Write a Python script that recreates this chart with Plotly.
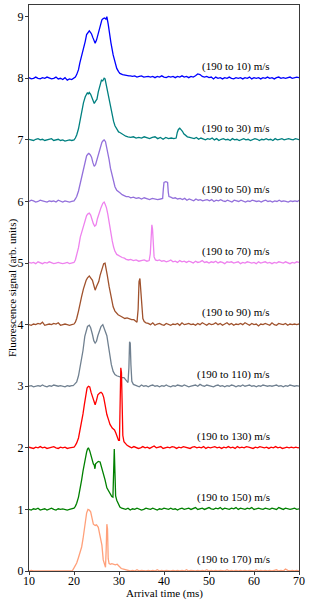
import plotly.graph_objects as go

# ---------------- data ----------------
FINAL_SPEEDS = [10, 30, 50, 70, 90, 110, 130, 150, 170]
OFFSETS = [8, 7, 6, 5, 4, 3, 2, 1, 0]
COLORS = ["#0000ff", "#008080", "#9370db", "#ee82ee", "#a0522d",
          "#708090", "#ff0000", "#008000", "#ffa07a"]

# PRE: baseline samples from 10 ms in 0.5 ms steps
# MAIN: (time, signal) pairs across the peaks
# POST: baseline samples from POST_START in 0.5 ms steps (rows = 5 ms)

PRE_10 = [0.01,-0.01,0.00,0.02,0.00,-0.01,0.01,0.00,0.02,0.01,-0.01,0.00,0.02,-0.01,0.00,-0.02,0.01,-0.03,-0.01,-0.02]
MAIN_10 = [(20.0,0.00),(20.3,0.02),(20.6,0.06),(21.0,0.14),(21.3,0.25),(21.7,0.36),(22.1,0.46),(22.5,0.60),(22.8,0.71),(23.1,0.75),
           (23.4,0.77),(23.7,0.74),(23.9,0.72),(24.2,0.66),(24.5,0.60),(24.7,0.57),(25.0,0.62),(25.4,0.74),(25.8,0.85),(26.2,0.95),
           (26.5,0.97),(26.8,0.98),(27.1,0.96),(27.3,1.00),(27.6,0.88),(27.8,0.76),(28.2,0.58),(28.7,0.38),(29.1,0.26),(29.5,0.16),
           (29.9,0.11),(30.2,0.08),(30.8,0.06),(31.3,0.05),(31.7,0.04),(32.2,0.04)]
POST_START_10 = 32.5
POST_10 = [0.04,0.03,0.04,0.02,0.03,0.04,0.02,0.03,0.03,0.02,
           0.03,0.01,0.03,0.02,0.04,0.02,0.01,0.03,0.02,0.03,
           0.01,0.03,0.02,0.04,0.02,0.03,0.01,0.03,0.02,0.04,
           0.07,0.06,0.03,0.02,0.03,0.01,0.02,-0.01,0.02,0.00,
           0.01,-0.01,0.01,0.00,0.02,0.00,-0.01,0.01,0.00,0.01,
           -0.01,0.01,0.00,0.02,-0.01,0.01,0.00,0.01,-0.01,0.01,
           0.00,0.02,0.00,0.01,-0.01,0.01,0.02,0.00,0.01,0.00,
           0.01,0.02,0.00,0.01,0.02,0.01,0.00,0.01,0.01,0.00]

PRE_30 = [0.01,0.00,-0.01,0.01,0.02,0.00,0.01,-0.01,0.00,0.01,0.02,-0.01,0.00,0.01,-0.01,0.00,-0.02,-0.01,0.00,-0.01]
MAIN_30 = [(20.0,0.00),(20.3,0.03),(20.6,0.08),(21.0,0.18),(21.3,0.30),(21.7,0.45),(22.1,0.60),(22.5,0.70),(22.8,0.74),(23.0,0.77),
           (23.2,0.74),(23.4,0.77),(23.7,0.74),(24.0,0.68),(24.3,0.62),(24.5,0.59),(24.8,0.63),(25.1,0.66),(25.4,0.78),(25.8,0.92),
           (26.1,0.97),(26.4,0.96),(26.7,1.00),(26.9,0.99),(27.2,0.88),(27.6,0.74),(28.0,0.56),(28.4,0.42),(28.8,0.30),(29.1,0.23),
           (29.5,0.18),(29.9,0.13),(30.2,0.12),(30.6,0.10),(31.0,0.08),(31.5,0.06),(32.0,0.05),
           (32.6,0.04),(33.2,0.05),(33.8,0.03),(34.4,0.04),(35.0,0.03),(35.6,0.05),(36.2,0.03),(36.8,0.02),(37.4,0.04),(38.0,0.05),
           (38.6,0.02),(39.2,0.04),(39.8,0.01),(40.4,0.04),(41.0,0.02),(41.6,0.03),(42.2,0.02),(42.7,0.03),(42.95,0.12),(43.2,0.17),
           (43.5,0.19),(43.8,0.17),(44.1,0.14),(44.4,0.10),(44.8,0.07),(45.2,0.05),(45.7,0.04)]
POST_START_30 = 46.2
POST_30 = [0.03,0.02,0.04,0.01,0.03,0.02,0.00,0.02,0.01,0.03,
           0.00,0.02,-0.01,0.01,0.02,0.00,0.01,-0.01,0.02,0.00,
           0.01,-0.01,0.01,0.02,0.00,0.01,-0.01,0.00,0.02,0.01,
           -0.01,0.01,0.00,0.02,0.00,0.01,-0.01,0.02,0.00,0.01,
           0.02,0.00,0.01,0.02,0.01,0.00,0.02,0.01,0.00,0.01]

PRE_50 = [0.00,0.02,0.01,-0.01,0.00,0.02,0.01,0.00,-0.01,0.01,0.00,0.01,-0.01,0.02,0.00,-0.01,0.01,0.00,-0.01,0.00]
MAIN_50 = [(20.0,0.01),(20.3,0.04),(20.6,0.08),(21.0,0.17),(21.4,0.30),(21.8,0.44),(22.1,0.54),(22.5,0.66),(22.8,0.74),(23.1,0.77),
           (23.3,0.78),(23.6,0.76),(23.9,0.72),(24.2,0.63),(24.5,0.57),(24.8,0.60),(25.0,0.65),(25.4,0.78),(25.8,0.89),(26.2,0.96),
           (26.5,0.99),(26.7,1.00),(27.0,0.97),(27.4,0.84),(27.8,0.68),(28.1,0.54),(28.5,0.40),(28.8,0.31),(29.1,0.24),(29.5,0.18),
           (29.9,0.15),(30.2,0.14),(30.7,0.11),(31.2,0.09),(31.6,0.08),(32.1,0.08),(32.6,0.06),(33.2,0.07),(33.8,0.05),(34.4,0.06),
           (35.0,0.04),(35.6,0.06),(36.2,0.05),(36.8,0.03),(37.4,0.05),(38.0,0.04),(38.6,0.03),(39.2,0.04),(39.7,0.05),(39.85,0.20),
           (40.0,0.31),(40.4,0.32),(40.8,0.31),(40.95,0.15),(41.1,0.08),(41.5,0.07),(42.0,0.05),(42.5,0.06),(43.0,0.04),(43.6,0.05)]
POST_START_50 = 44.1
POST_50 = [0.03,0.05,0.02,0.04,0.03,0.01,0.04,0.02,0.03,0.01,
           0.02,0.03,0.01,0.03,0.00,0.02,0.01,0.03,0.01,0.00,
           0.02,0.01,-0.01,0.02,0.01,0.00,0.02,0.01,-0.01,0.01,
           0.00,0.02,0.01,0.00,0.01,-0.01,0.01,0.02,0.00,0.01,
           -0.01,0.01,0.00,0.02,0.00,0.01,0.00,-0.01,0.01,0.00,
           0.01,0.00,0.02,0.01]

PRE_70 = [0.01,0.00,0.01,-0.01,0.02,0.00,-0.01,0.01,0.00,0.02,0.01,-0.01,0.00,0.01,0.00,-0.01,0.00,0.01,-0.01,0.00]
MAIN_70 = [(20.0,0.01),(20.3,0.05),(20.6,0.12),(21.0,0.25),(21.4,0.42),(21.7,0.50),(22.1,0.62),(22.5,0.72),(22.8,0.77),(23.1,0.80),
           (23.4,0.81),(23.7,0.78),(24.0,0.70),(24.3,0.64),(24.6,0.60),(24.9,0.62),(25.2,0.72),(25.6,0.82),(26.0,0.90),(26.4,0.97),
           (26.7,0.99),(26.9,0.96),(27.2,0.90),(27.5,0.80),(27.8,0.66),(28.1,0.50),(28.5,0.36),(28.8,0.26),(29.1,0.19),(29.5,0.14),
           (29.9,0.12),(30.2,0.11),(30.7,0.09),(31.2,0.08),(31.6,0.06),(32.1,0.05),(32.6,0.06),(33.2,0.04),(33.8,0.05),(34.4,0.03),
           (35.0,0.04),(35.6,0.05),(36.2,0.03),(36.7,0.04),(36.95,0.15),(37.15,0.50),(37.3,0.62),(37.45,0.55),(37.6,0.25),(37.8,0.10),
           (38.1,0.05),(38.5,0.04),(39.0,0.05),(39.5,0.03)]
POST_START_70 = 40.0
POST_70 = [0.04,0.02,0.03,0.05,0.02,0.03,0.01,0.04,0.02,0.03,
           0.01,0.03,0.02,0.00,0.03,0.01,0.02,0.04,0.01,0.02,
           0.00,0.02,0.01,0.03,0.00,0.02,0.01,-0.01,0.02,0.01,
           0.02,0.00,0.01,0.02,-0.01,0.01,0.00,0.02,0.01,0.00,
           0.01,-0.01,0.02,0.00,0.01,0.02,0.00,0.01,-0.01,0.01,
           0.00,0.02,0.01,0.00,0.02,0.01,-0.01,0.01,0.00,0.02,
           0.01,0.00]

PRE_90 = [0.00,-0.01,0.01,0.00,0.02,0.01,0.04,-0.01,0.00,0.01,0.00,0.02,0.01,0.03,-0.01,0.00,0.01,0.00,-0.01,0.00]
MAIN_90 = [(20.0,0.01),(20.3,0.04),(20.6,0.10),(21.0,0.22),(21.4,0.38),(21.7,0.46),(22.1,0.58),(22.4,0.66),(22.7,0.72),(23.0,0.76),
           (23.4,0.79),(23.7,0.76),(24.1,0.72),(24.4,0.64),(24.7,0.56),(25.0,0.62),(25.5,0.70),(25.8,0.80),(26.2,0.90),(26.6,0.99),
           (26.9,1.00),(27.1,0.89),(27.4,0.80),(27.8,0.62),(28.2,0.46),(28.7,0.29),(29.1,0.22),(29.5,0.18),(29.8,0.16),(30.3,0.14),
           (30.8,0.12),(31.3,0.10),(31.8,0.11),(32.3,0.09),(32.8,0.08),(33.3,0.08),(33.7,0.06),(34.0,0.04),(34.25,0.25),(34.45,0.70),
           (34.65,0.75),(34.85,0.55),(35.05,0.22),(35.3,0.10),(35.6,0.05),(36.0,0.03),(36.5,0.02)]
POST_START_90 = 37.0
POST_90 = [0.00,0.03,-0.01,0.01,0.02,0.00,-0.01,0.02,0.01,-0.01,
           0.01,0.00,0.02,-0.01,0.03,0.00,0.01,0.02,0.00,0.01,
           -0.01,0.02,0.00,0.03,0.01,-0.01,0.02,0.00,0.01,0.03,
           0.00,0.02,-0.01,0.01,0.03,0.00,0.02,-0.01,0.01,0.00,
           0.02,0.00,0.03,0.01,-0.01,0.02,0.00,0.01,-0.02,0.01,
           0.00,0.02,0.01,-0.01,0.03,0.00,-0.01,0.02,0.01,0.00,
           0.02,-0.01,0.01,0.00,0.01,0.00,0.01,0.00,0.01,0.00]

PRE_110 = [0.00,0.01,-0.01,0.00,0.01,0.00,0.02,0.00,-0.01,0.01,0.00,0.02,0.01,0.00,0.01,0.00,-0.01,0.01,0.00,0.01]
MAIN_110 = [(19.8,0.01),(20.1,0.03),(20.6,0.07),(21.0,0.17),(21.4,0.32),(21.7,0.43),(22.0,0.58),(22.4,0.81),(22.7,0.92),(23.0,0.97),
            (23.4,0.99),(23.7,0.95),(24.1,0.84),(24.4,0.74),(24.7,0.70),(25.0,0.73),(25.3,0.82),(25.7,0.93),(26.0,0.97),(26.4,1.00),
            (26.7,0.95),(27.0,0.88),(27.3,0.82),(27.6,0.66),(28.0,0.48),(28.3,0.35),(28.7,0.24),(29.1,0.19),(29.5,0.17),(29.8,0.16),
            (30.3,0.15),(30.7,0.14),(31.1,0.14),(31.5,0.11),(31.8,0.08),(32.0,0.06),(32.2,0.30),(32.35,0.72),(32.5,0.70),(32.65,0.35),
            (32.85,0.08),(33.2,0.03),(33.6,0.02)]
POST_START_110 = 34.0
POST_110 = [0.01,-0.01,0.02,0.00,0.01,-0.01,0.01,0.02,0.00,0.01,
            -0.01,0.01,0.00,0.02,0.00,-0.01,0.01,0.00,0.02,0.01,
            0.00,0.02,0.01,-0.01,0.00,0.01,0.02,0.00,0.03,0.01,
            0.00,0.02,0.01,0.00,-0.01,0.01,0.02,0.00,0.01,-0.01,
            0.01,0.00,0.02,0.01,-0.01,0.01,0.00,0.02,0.00,0.01,
            0.02,0.00,0.01,-0.01,0.01,0.00,0.02,0.01,0.00,0.01,
            0.00,0.01,0.02,0.00,0.01,-0.01,0.01,0.00,0.02,0.01,
            0.00,0.01,0.00]

PRE_130 = [0.01,0.00,-0.01,0.01,0.00,0.02,0.00,0.01,-0.01,0.00,0.01,0.02,0.00,-0.01,0.01,0.00,0.01,-0.01,0.00,0.00]
MAIN_130 = [(20.0,0.01),(20.3,0.04),(20.6,0.08),(21.0,0.16),(21.3,0.26),(21.7,0.40),(22.0,0.55),(22.3,0.70),(22.6,0.86),(22.9,0.97),
            (23.2,1.00),(23.5,0.99),(23.8,0.90),(24.1,0.82),(24.4,0.76),(24.7,0.70),(25.0,0.77),(25.3,0.86),(25.7,0.89),(26.0,0.90),
            (26.3,0.88),(26.6,0.82),(26.9,0.70),(27.3,0.54),(27.7,0.45),(28.0,0.38),(28.5,0.32),(29.0,0.29),(29.3,0.24),(29.6,0.16),
            (29.9,0.12),(30.1,0.12),(30.25,0.60),(30.4,1.30),(30.55,1.22),(30.7,0.60),(30.85,0.20),(31.1,0.10),(31.4,0.07),(31.8,0.04),
            (32.3,0.02)]
POST_START_130 = 32.8
POST_130 = [0.00,0.02,0.01,-0.01,0.00,0.02,0.00,0.01,-0.01,0.01,
            0.03,0.00,0.01,0.02,-0.01,0.00,0.01,0.00,0.02,0.01,
            -0.01,0.01,0.00,0.02,0.01,0.00,-0.01,0.01,0.02,0.00,
            0.01,0.00,0.02,-0.01,0.01,0.00,0.01,0.02,0.00,0.01,
            -0.01,0.01,0.00,0.02,0.00,0.01,-0.01,0.02,0.00,0.01,
            0.00,0.02,0.01,0.00,-0.01,0.01,0.00,0.02,0.01,0.00,
            0.01,-0.01,0.01,0.00,0.02,0.00,0.01,-0.01,0.00,0.01,
            0.00,0.01,0.00,0.01,0.00,0.01,0.00,0.00,0.00,0.00]

PRE_150 = [0.00,-0.01,0.01,0.00,0.02,-0.01,0.00,0.01,-0.01,0.00,0.02,0.00,-0.01,0.01,0.00,0.01,0.00,-0.01,0.00,0.01]
MAIN_150 = [(20.0,0.02),(20.3,0.05),(20.6,0.10),(21.0,0.20),(21.4,0.34),(21.7,0.48),(22.0,0.62),(22.4,0.80),(22.8,0.93),(23.0,0.98),
            (23.2,1.00),(23.5,0.95),(23.9,0.82),(24.3,0.74),(24.5,0.72),(24.65,0.66),(24.8,0.74),(25.1,0.76),(25.4,0.78),(25.8,0.77),
            (26.1,0.70),(26.5,0.61),(26.9,0.48),(27.3,0.35),(27.7,0.29),(28.0,0.27),(28.4,0.21),(28.65,0.20),(28.8,0.55),(28.95,0.98),
            (29.1,0.60),(29.25,0.22),(29.5,0.15),(29.8,0.10),(30.2,0.04),(30.6,0.02),(31.0,0.01)]
POST_START_150 = 31.5
POST_150 = [0.00,0.02,-0.01,0.01,0.00,0.02,0.01,-0.01,0.00,0.02,
            0.01,0.00,0.02,0.01,-0.01,0.01,0.00,0.02,0.01,0.00,
            0.02,0.00,0.01,-0.01,0.01,0.02,0.00,0.01,0.02,0.00,
            0.01,0.03,0.00,0.01,0.02,0.00,0.01,0.03,0.01,0.00,
            0.02,0.01,0.03,0.00,0.02,0.01,0.00,0.02,0.01,0.03,
            0.00,0.02,0.01,0.00,0.02,0.01,0.03,0.00,0.01,0.02,
            0.01,0.00,0.02,0.01,0.00,0.02,0.01,0.00,0.03,0.01,
            0.00,0.02,0.01,0.00,0.01,0.02,0.00,0.01,0.00,0.01]

PRE_170 = [0.00,0.01,0.00,0.00,0.01,0.00,0.01,0.00,0.00,0.01,0.00,0.01,0.00,0.00,0.01,0.00,0.00,0.01,0.00,0.00]
MAIN_170 = [(19.6,0.00),(20.0,0.05),(20.3,0.09),(20.6,0.13),(21.0,0.22),(21.4,0.32),(21.7,0.39),(22.0,0.52),(22.4,0.76),(22.8,0.94),
            (23.1,1.00),(23.4,0.99),(23.7,0.96),(24.0,0.86),(24.3,0.76),(24.7,0.74),(25.0,0.75),(25.4,0.71),(25.8,0.56),(26.2,0.42),
            (26.5,0.18),(26.8,0.08),(27.0,0.06),(27.15,0.35),(27.3,0.76),(27.45,0.68),(27.6,0.20),(27.8,0.12),(28.1,0.11),(28.4,0.12),
            (28.8,0.11),(29.2,0.10),(29.6,0.11),(30.0,0.07),(30.5,0.04),(31.0,0.03),(31.5,0.02)]
POST_START_170 = 32.0
POST_170 = [0.01,0.00,0.01,0.00,0.02,0.00,0.01,0.00,0.00,0.01,
            0.00,0.01,0.00,0.02,0.00,0.01,0.00,0.01,0.00,0.00,
            0.01,0.00,0.01,0.00,0.01,0.00,0.02,0.00,0.01,0.00,
            0.00,0.01,0.00,0.01,0.00,0.02,0.00,0.01,0.00,0.01,
            0.00,0.01,0.00,0.00,0.02,0.00,0.01,0.00,0.01,0.00,
            0.01,0.00,0.01,0.00,0.01,0.00,0.00,0.02,0.00,0.01,
            0.00,0.01,0.00,0.01,0.00,0.01,0.02,0.00,0.01,0.00,
            0.03,0.01,0.00,0.01,0.00,0.01,0.00,0.01,0.00,0.00]

X_TICKS = [10, 20, 30, 40, 50, 60, 70]
Y_TICKS = [0, 1, 2, 3, 4, 5, 6, 7, 8, 9]
X_TITLE = "Arrival time (ms)"
Y_TITLE = "Fluorescence signal (arb. units)"

TRACES = [
    (PRE_10, MAIN_10, POST_START_10, POST_10),
    (PRE_30, MAIN_30, POST_START_30, POST_30),
    (PRE_50, MAIN_50, POST_START_50, POST_50),
    (PRE_70, MAIN_70, POST_START_70, POST_70),
    (PRE_90, MAIN_90, POST_START_90, POST_90),
    (PRE_110, MAIN_110, POST_START_110, POST_110),
    (PRE_130, MAIN_130, POST_START_130, POST_130),
    (PRE_150, MAIN_150, POST_START_150, POST_150),
    (PRE_170, MAIN_170, POST_START_170, POST_170),
]


def assemble(pre, main, post_start, post):
    t = [10 + 0.5 * i for i in range(len(pre))]
    v = list(pre)
    t += [p[0] for p in main]
    v += [p[1] for p in main]
    t += [post_start + 0.5 * i for i in range(len(post))]
    v += list(post)
    return t, v


FONT = "Times New Roman, Liberation Serif, Tinos, serif"
AX = "#3a3a3a"
W, H = 310, 604
ML, MR, MT, MB = 29, 11, 5, 33
PW, PH = W - ML - MR, H - MT - MB

fig = go.Figure()
annotations = []
for (pre, main, ps, post), off, col, spd in zip(TRACES, OFFSETS, COLORS, FINAL_SPEEDS):
    t, v = assemble(pre, main, ps, post)
    fig.add_trace(go.Scatter(x=t, y=[s + off for s in v], mode="lines",
                             line=dict(color=col, width=1.3), showlegend=False,
                             hoverinfo="skip"))
    annotations.append(dict(x=64.1, y=off + 0.19, xref="x", yref="y",
                            text=f"(190 to {spd}) m/s", showarrow=False,
                            xanchor="right", yanchor="middle",
                            font=dict(family=FONT, size=11, color="#000")))

# axis titles placed as annotations (pixel positions from the reference)
annotations.append(dict(x=0.5, y=-(593.5 - (H - MB)) / PH, xref="paper", yref="paper",
                        text=X_TITLE, showarrow=False, xanchor="center", yanchor="middle",
                        font=dict(family=FONT, size=11, color="#000")))
annotations.append(dict(x=(12 - ML) / PW, y=0.5, xref="paper", yref="paper",
                        text=Y_TITLE, showarrow=False, textangle=-90,
                        xanchor="center", yanchor="middle",
                        font=dict(family=FONT, size=11, color="#000")))

fig.update_layout(
    width=W, height=H,
    margin=dict(l=ML, r=MR, t=MT, b=MB, autoexpand=False),
    paper_bgcolor="white", plot_bgcolor="white",
    font=dict(family=FONT, size=12, color="#000"),
    annotations=annotations,
)
fig.update_xaxes(range=[10, 70], tickvals=X_TICKS, ticks="outside", ticklen=3,
                 tickcolor=AX, showline=True, linecolor=AX, linewidth=1, mirror=True,
                 showgrid=False, zeroline=False, tickfont=dict(family=FONT, size=12),
                 ticklabelstandoff=-4, automargin=False)
fig.update_yaxes(range=[0, 9.19], tickvals=Y_TICKS, ticks="outside", ticklen=3,
                 tickcolor=AX, showline=True, linecolor=AX, linewidth=1, mirror=True,
                 showgrid=False, zeroline=False, tickfont=dict(family=FONT, size=12),
                 ticklabelstandoff=-1, automargin=False)

fig.write_html("out.html", config={"displayModeBar": False},
               post_script="document.body.style.margin='0';document.body.style.padding='0';")
